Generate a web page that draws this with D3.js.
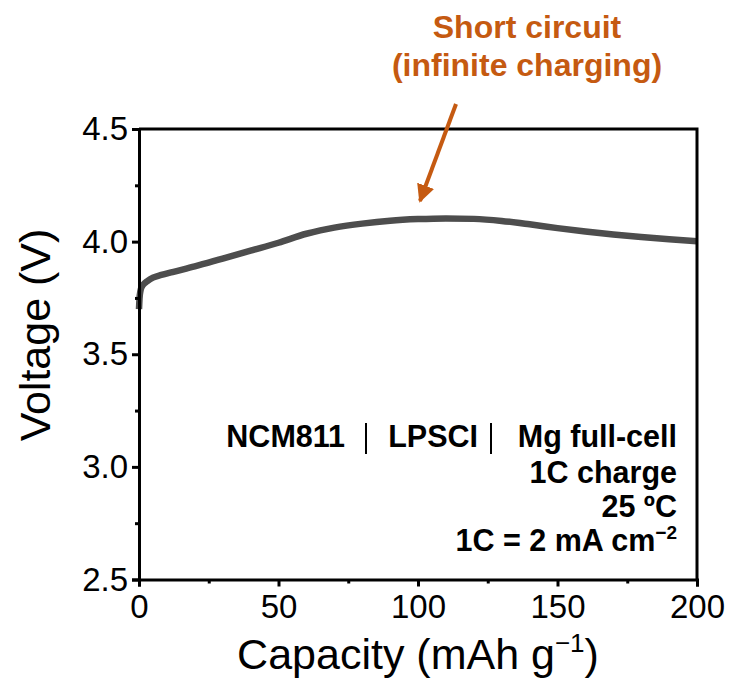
<!DOCTYPE html>
<html>
<head>
<meta charset="utf-8">
<script src="https://cdn.jsdelivr.net/npm/d3@7"></script>
<style>
  html, body { margin: 0; padding: 0; background: #fff; }
  svg { display: block; font-family: "Liberation Sans", Arial, sans-serif; }
</style>
</head>
<body>
<svg id="chart" width="729" height="691"></svg>
<script>
// Charge curve: specific capacity (mAh/g) vs cell voltage (V)
const capacity = [0, 0.2, 0.5, 1, 2, 3, 5, 8, 12, 20, 30, 40, 50, 60, 65, 70, 80, 90, 100, 110, 120, 130, 140, 150, 160, 170, 180, 190, 200];
const voltage  = [3.70, 3.75, 3.78, 3.80, 3.815, 3.825, 3.84, 3.852, 3.865, 3.89, 3.925, 3.96, 3.995, 4.035, 4.05, 4.062, 4.08, 4.093, 4.100, 4.103, 4.101, 4.092, 4.077, 4.060, 4.045, 4.032, 4.021, 4.011, 4.002];

const xMajorTicks = [0, 50, 100, 150, 200];
const xMinorTicks = [25, 75, 125, 175];
const yMajorTicks = [2.5, 3.0, 3.5, 4.0, 4.5];
const yMinorTicks = [2.75, 3.25, 3.75, 4.25];

const xTitle = "Capacity (mAh g";
const yTitle = "Voltage (V)";
const infoLines = ["1C charge", "25 ºC"];
const calloutLines = ["Short circuit", "(infinite charging)"];

const svg = d3.select("#chart");
const plot = { left: 139, right: 697, top: 129, bottom: 579.5 };

const x = d3.scaleLinear().domain([0, 200]).range([plot.left, plot.right]);
const y = d3.scaleLinear().domain([2.5, 4.5]).range([plot.bottom, plot.top]);

const data = capacity.map((c, i) => ({ c, v: voltage[i] }));

// Curve
svg.append("path")
  .datum(data)
  .attr("fill", "none")
  .attr("stroke", "#4d4d4d")
  .attr("stroke-width", 6.5)
  .attr("stroke-linejoin", "round")
  .attr("d", d3.line().x(d => x(d.c)).y(d => y(d.v)).curve(d3.curveMonotoneX));

// Frame (top and right)
svg.append("path")
  .attr("d", `M${plot.left},${plot.top}H${plot.right}V${plot.bottom}`)
  .attr("fill", "none").attr("stroke", "#000").attr("stroke-width", 3);

// Bottom axis
svg.append("g").attr("transform", `translate(0,${plot.bottom})`)
  .call(d3.axisBottom(x).tickValues(xMajorTicks).tickSize(7).tickPadding(8).tickFormat(d3.format("d")));
svg.append("g").attr("transform", `translate(0,${plot.bottom})`)
  .call(d3.axisBottom(x).tickValues(xMinorTicks).tickSize(4).tickFormat(""))
  .call(g => g.select(".domain").remove());

// Left axis
svg.append("g").attr("transform", `translate(${plot.left},0)`)
  .call(d3.axisLeft(y).tickValues(yMajorTicks).tickSize(7).tickPadding(4).tickFormat(d3.format(".1f")));
svg.append("g").attr("transform", `translate(${plot.left},0)`)
  .call(d3.axisLeft(y).tickValues(yMinorTicks).tickSize(4).tickFormat(""))
  .call(g => g.select(".domain").remove());

svg.selectAll(".domain").attr("stroke", "#000").attr("stroke-width", 3);
svg.selectAll(".tick line").attr("stroke", "#000").attr("stroke-width", 3);
svg.selectAll(".tick text").attr("fill", "#000")
  .style("font-family", "'Liberation Sans', Arial, sans-serif").style("font-size", "33px");

// Axis titles
svg.append("text")
  .attr("x", 418).attr("y", 669)
  .attr("text-anchor", "middle").style("font-size", "43px").attr("fill", "#000")
  .text(xTitle)
  .call(t => t.append("tspan").attr("dy", -17).style("font-size", "26px").text("\u22121"))
  .call(t => t.append("tspan").attr("dy", 17).text(")"));

svg.append("text")
  .attr("transform", `translate(50,335) rotate(-90)`)
  .attr("text-anchor", "middle").style("font-size", "43px").attr("fill", "#000")
  .text(yTitle);

// Cell description block (right aligned)
const infoRight = 677;
const info = svg.append("g").style("font-size", "30.5px").style("font-weight", "bold").attr("fill", "#000");
info.append("text").attr("x", infoRight).attr("y", 447).attr("text-anchor", "end").text("Mg full-cell");
info.append("text").attr("x", 478).attr("y", 447).attr("text-anchor", "end").text("LPSCI");
info.append("text").attr("x", 345).attr("y", 447).attr("text-anchor", "end").text("NCM811");
[366, 491].forEach(bx => {
  info.append("line").attr("x1", bx).attr("x2", bx).attr("y1", 423).attr("y2", 454)
    .attr("stroke", "#000").attr("stroke-width", 2);
});
infoLines.forEach((s, i) => {
  info.append("text").attr("x", infoRight).attr("y", 482.5 + i * 34.5).attr("text-anchor", "end").text(s);
});
info.append("text").attr("x", infoRight).attr("y", 551).attr("text-anchor", "end")
  .text("1C = 2 mA cm")
  .call(t => t.append("tspan").attr("dy", -12).style("font-size", "19px").text("\u22122"));

// Short-circuit callout
const orange = "#c55a11";
const callout = svg.append("g").style("font-size", "32px").style("font-weight", "bold").attr("fill", orange);
calloutLines.forEach((s, i) => {
  callout.append("text").attr("x", 527).attr("y", 38 + i * 38).attr("text-anchor", "middle").text(s);
});
const defs = svg.append("defs");
defs.append("marker").attr("id", "head").attr("viewBox", "0 0 10 10")
  .attr("refX", 9).attr("refY", 5).attr("markerWidth", 4.5).attr("markerHeight", 4.5)
  .attr("markerUnits", "strokeWidth").attr("orient", "auto")
  .append("path").attr("d", "M0,0L10,5L0,10Z").attr("fill", orange);
svg.append("line")
  .attr("x1", 456).attr("y1", 104).attr("x2", 420).attr("y2", 201)
  .attr("stroke", orange).attr("stroke-width", 4).attr("marker-end", "url(#head)");
</script>
</body>
</html>
